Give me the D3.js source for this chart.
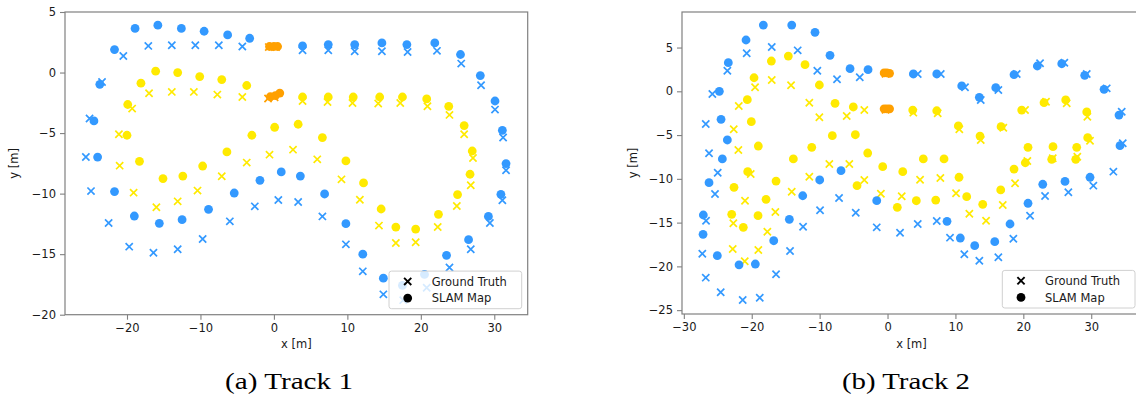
<!DOCTYPE html>
<html>
<head>
<meta charset="utf-8">
<script src="https://cdn.jsdelivr.net/npm/d3@7/dist/d3.min.js"></script>
<style>
  html, body { margin: 0; padding: 0; background: #fff; }
  svg { display: block; }
</style>
</head>
<body>
<svg id="chart" width="1136" height="400"></svg>
<script>
// ---------------- DATA ----------------
const legendLabels = ["Ground Truth", "SLAM Map"];
const captions = ["(a) Track 1", "(b) Track 2"];
const axisLabelX = "x [m]";
const axisLabelY = "y [m]";

const t1XTicks = [-20, -10, 0, 10, 20, 30];
const t1YTicks = [-20, -15, -10, -5, 0, 5];
const t2XTicks = [-30, -20, -10, 0, 10, 20, 30];
const t2YTicks = [-25, -20, -15, -10, -5, 0, 5];

// Track 1
const t1BlueGT = [[-20.5,1.37],[-17.1,2.2],[-13.9,2.26],[-10.7,2.26],[-7.5,2.26],[-4.3,2.15],
  [3.9,1.84],[7.4,1.84],[11.0,1.76],[14.7,1.76],[18.2,1.7],[22.2,1.79],[25.5,0.74],[28.2,-1.05],
  [30.1,-3.06],[31.2,-5.37],[31.6,-8.07],[31.1,-10.55],[29.4,-12.43],[26.8,-14.6],[23.9,-16.1],
  [20.8,-17.77],[17.6,-18.8],[14.9,-18.32],[12.1,-16.42],[9.8,-14.19],[6.6,-11.88],[3.3,-10.69],
  [0.6,-10.53],[-2.6,-11.05],[-6.0,-12.29],[-9.7,-13.75],[-13.1,-14.6],[-16.4,-14.88],[-19.7,-14.38],
  [-22.5,-12.43],[-24.9,-9.79],[-25.6,-6.98],[-25.1,-3.8],[-23.4,-0.78]];
const t1BlueSLAM = [[-21.7,1.9],[-18.9,3.64],[-15.8,3.91],[-12.6,3.64],[-9.5,3.41],[-6.3,3.11],[-3.3,2.83],
  [3.9,2.2],[7.4,2.31],[11.0,2.31],[14.7,2.45],[18.1,2.31],[21.9,2.45],[25.4,1.49],[28.1,-0.25],
  [30.1,-2.35],[31.1,-4.77],[31.6,-7.52],[30.9,-10.06],[29.2,-11.88],[26.5,-13.8],[23.5,-15.1],
  [20.5,-16.67],[17.5,-17.58],[14.9,-16.98],[12.1,-15.0],[9.8,-12.48],[6.9,-10.03],[3.6,-8.55],
  [1.0,-8.21],[-1.9,-8.9],[-5.4,-9.95],[-8.9,-11.3],[-12.5,-12.15],[-15.6,-12.45],[-19.0,-11.85],
  [-21.7,-9.83],[-24.0,-6.98],[-24.5,-4.0],[-23.7,-0.97]];
const t1YellowGT = [[-17.0,-1.71],[-13.9,-1.6],[-10.9,-1.6],[-7.7,-1.82],[-4.3,-2.02],
  [3.9,-2.35],[7.3,-2.43],[10.7,-2.51],[14.2,-2.56],[17.2,-2.51],[20.9,-2.79],[23.9,-3.5],
  [25.9,-5.1],[27.1,-7.06],[26.8,-9.31],[24.9,-11.02],[22.3,-12.76],[19.3,-14.02],[16.6,-14.08],
  [14.3,-12.64],[11.7,-10.5],[9.2,-8.82],[5.9,-7.17],[2.6,-6.37],[-0.6,-6.78],[-3.7,-7.44],
  [-7.1,-8.57],[-10.4,-9.75],[-13.1,-10.64],[-16.0,-11.13],[-19.1,-9.92],[-21.0,-7.69],
  [-21.1,-5.1],[-19.3,-2.98]];
const t1YellowSLAM = [[-18.1,-0.88],[-16.1,0.11],[-13.1,0.0],[-10.1,-0.33],[-7.1,-0.58],[-3.7,-1.07],
  [3.9,-2.02],[7.4,-2.02],[10.8,-2.02],[14.4,-2.02],[17.5,-2.02],[20.8,-2.18],[23.8,-2.79],
  [25.9,-4.38],[27.0,-6.48],[26.7,-8.4],[25.0,-10.08],[22.4,-11.71],[19.3,-12.93],[16.6,-12.76],
  [14.6,-11.27],[12.2,-9.12],[9.8,-7.3],[6.6,-5.37],[3.3,-4.27],[0.1,-4.52],[-3.0,-5.18],
  [-6.4,-6.56],[-9.7,-7.72],[-12.4,-8.55],[-15.1,-8.76],[-18.3,-7.33],[-20.0,-5.18],[-19.9,-2.64]];
const t1OrangeGT = [[-0.7,2.1],[0.3,2.1],[-0.8,-2.15],[0.1,-2.05]];
const t1OrangeSLAM = [[-0.6,2.15],[0.0,2.15],[0.5,2.15],[-0.5,-2.0],[0.2,-1.9],[0.8,-1.7]];

// Track 2
const t2BlueGT = [[-17.05,5.06],[-13.23,4.68],[-20.74,4.34],[-23.59,2.35],[-10.34,2.35],[-7.44,1.37],
  [-4.09,1.6],[-25.8,-0.31],[-26.77,-3.74],[-26.29,-7.08],[-25.01,-9.3],[-25.41,-11.73],[-26.73,-14.78],
  [-27.28,-18.55],[-26.77,-21.29],[-24.57,-22.96],[-21.33,-23.84],[-18.82,-23.58],[-16.42,-20.9],
  [-14.36,-18.24],[-12.44,-15.47],[-9.94,-13.59],[-7.14,-12.19],[-4.68,-13.87],[-1.59,-15.54],
  [1.84,-16.15],[4.45,-15.16],[7.25,-14.82],[9.2,-16.72],[11.31,-18.62],[13.52,-19.35],[16.32,-18.96],
  [18.53,-16.84],[20.99,-14.21],[23.2,-11.96],[26.63,-11.54],[30.31,-10.78],[33.26,-9.18],
  [34.64,-5.94],[34.49,-2.33],[32.28,0.34],[29.34,1.98],[26.04,3.27],[22.46,3.2],[19.03,1.98],
  [16.32,0.15],[13.73,-0.99],[11.41,0.46],[7.84,1.98],[4.45,1.98]];
const t2BlueSLAM = [[-18.29,7.57],[-14.11,7.57],[-10.68,6.74],[-20.84,5.86],[-8.47,4.11],[-5.52,2.58],
  [-2.87,2.47],[-23.45,3.27],[-24.77,0.0],[-24.52,-3.2],[-23.59,-5.56],[-24.33,-7.73],[-26.29,-10.44],
  [-27.13,-14.13],[-27.17,-16.34],[-25.07,-18.78],[-21.87,-19.82],[-19.47,-19.73],[-16.76,-17.07],
  [-14.46,-14.62],[-12.49,-11.93],[-9.99,-10.13],[-6.85,-9.07],[-1.59,-12.49],[3.8,1.98],[7.25,1.98],
  [10.93,0.61],[13.52,-0.69],[15.94,0.41],[18.63,1.9],[22.06,2.89],[25.66,3.15],[29.04,1.83],
  [31.89,0.23],[34.09,-2.71],[34.24,-6.21],[29.82,-9.82],[26.14,-10.3],[22.86,-10.62],[20.69,-12.79],
  [18.04,-15.16],[15.79,-17.18],[12.84,-17.64],[10.72,-16.76],[8.76,-14.85]];
const t2YellowGT = [[-17.05,1.29],[-14.21,0.69],[-19.51,0.46],[-21.91,-1.68],[-11.52,-1.3],[-10.04,-2.97],
  [-6.01,-2.82],[-3.42,-2.14],[-22.65,-4.34],[-21.97,-6.71],[-8.57,-8.3],[-5.63,-8.3],[-20.15,-9.45],
  [-11.52,-9.76],[-3.42,-10.13],[-0.98,-11.7],[-20.99,-12.5],[-16.52,-13.79],[-14.11,-11.47],
  [-22.71,-15.08],[-17.7,-16.04],[-22.8,-18.01],[-19.03,-18.13],[-21.03,-19.42],[3.8,-2.44],
  [7.39,-2.51],[10.57,-4.34],[13.73,-5.56],[17.05,-4.16],[20.25,-2.14],[23.34,-1.19],[26.39,-1.37],
  [29.43,-2.9],[29.82,-5.64],[20.59,-7.96],[24.33,-7.65],[27.95,-7.47],[4.79,-10.11],[7.78,-9.9],
  [2.09,-11.99],[10.09,-11.65],[12.05,-13.98],[14.51,-14.78],[16.97,-12.99],[18.78,-10.51]];
const t2YellowSLAM = [[-17.11,3.46],[-14.61,4.03],[-12.15,3.04],[-19.66,1.55],[-10.04,0.72],[-20.65,-0.96],
  [-7.73,-1.37],[-5.04,-1.79],[-20.06,-3.47],[-8.13,-5.07],[-4.74,-4.96],[-19.03,-6.25],[-11.16,-6.4],
  [-2.92,-7.05],[-13.87,-7.73],[-0.71,-8.61],[-20.59,-9.18],[-22.61,-10.97],[-16.42,-10.25],
  [-17.89,-12.34],[-22.95,-14.05],[-19.07,-14.21],[-21.24,-15.54],[-4.49,-10.78],[3.71,-2.14],
  [7.25,-2.22],[10.43,-3.96],[13.62,-5.11],[16.72,-4.04],[19.76,-2.14],[23.05,-1.3],[26.24,-0.99],
  [29.34,-2.36],[29.48,-5.3],[20.69,-6.4],[24.37,-6.33],[27.86,-6.4],[20.29,-8.16],[24.18,-7.77],
  [27.72,-7.77],[2.24,-9.18],[5.27,-7.73],[8.32,-7.73],[10.53,-9.82],[18.63,-8.88],[1.44,-13.25],
  [4.24,-12.5],[7.1,-12.42],[11.66,-12.04],[14.02,-12.91],[16.67,-11.27]];
const t2OrangeGT = [[-0.3,2.0],[-0.3,-2.1]];
const t2OrangeSLAM = [[-0.5,2.1],[-0.1,2.1],[0.3,2.05],[-0.5,-2.0],[-0.1,-2.0],[0.3,-2.0]];

// ---------------- STYLE ----------------
const BLUE = "#3399ff", YELLOW = "#ffea00", ORANGE = "#ffa000";
const FONT = "'DejaVu Sans', sans-serif";
const TXT = "#1a1a1a";
const SPINE = "#808080";
const R = 4.4, XS = 3.6;

const svg = d3.select("#chart");

const panels = [
  { left: 65, right: 527.7, top: 12, bottom: 314.7,
    xDomain: [-28.44, 34.55], yDomain: [-20, 5], xTicks: t1XTicks, yTicks: t1YTicks,
    gt: [[t1BlueGT, BLUE], [t1YellowGT, YELLOW], [t1OrangeGT, ORANGE]],
    slam: [[t1BlueSLAM, BLUE], [t1YellowSLAM, YELLOW], [t1OrangeSLAM, ORANGE]],
    caption: captions[0], capX: 289, yLabX: 14 },
  { left: 682, right: 1141, top: 12, bottom: 314,
    xDomain: [-30.27, 37.33], yDomain: [-25.44, 9.06], xTicks: t2XTicks, yTicks: t2YTicks,
    gt: [[t2BlueGT, BLUE], [t2YellowGT, YELLOW], [t2OrangeGT, ORANGE]],
    slam: [[t2BlueSLAM, BLUE], [t2YellowSLAM, YELLOW], [t2OrangeSLAM, ORANGE]],
    caption: captions[1], capX: 906, yLabX: 633 }
];

const xPath = s => `M${-s},${-s}L${s},${s}M${-s},${s}L${s},${-s}`;

panels.forEach((p, i) => {
  const x = d3.scaleLinear().domain(p.xDomain).range([p.left, p.right]);
  const y = d3.scaleLinear().domain(p.yDomain).range([p.bottom, p.top]);
  const g = svg.append("g");

  const clipId = "clip" + i;
  svg.append("clipPath").attr("id", clipId).append("rect")
    .attr("x", p.left).attr("y", p.top).attr("width", p.right - p.left).attr("height", p.bottom - p.top);

  // axes
  const xa = g.append("g").attr("transform", `translate(0,${p.bottom})`)
    .call(d3.axisBottom(x).tickValues(p.xTicks).tickSize(5).tickPadding(4).tickSizeOuter(0));
  const ya = g.append("g").attr("transform", `translate(${p.left},0)`)
    .call(d3.axisLeft(y).tickValues(p.yTicks).tickSize(5).tickPadding(4).tickSizeOuter(0));
  [xa, ya].forEach(a => {
    a.select(".domain").remove();
    a.selectAll(".tick line").attr("stroke", SPINE).attr("stroke-width", 1.1);
    a.selectAll(".tick text").attr("fill", TXT).attr("font-family", FONT).attr("font-size", 11.5);
  });

  // marks
  const mg = g.append("g").attr("clip-path", `url(#${clipId})`);
  p.gt.forEach(([data, col]) => {
    mg.append("g").selectAll("path").data(data).join("path")
      .attr("d", xPath(XS))
      .attr("transform", d => `translate(${x(d[0])},${y(d[1])})`)
      .attr("stroke", col).attr("stroke-width", 1.7).attr("fill", "none");
  });
  p.slam.forEach(([data, col]) => {
    mg.append("g").selectAll("circle").data(data).join("circle")
      .attr("cx", d => x(d[0])).attr("cy", d => y(d[1])).attr("r", R)
      .attr("fill", col);
  });

  // spines
  g.append("rect").attr("x", p.left).attr("y", p.top)
    .attr("width", p.right - p.left).attr("height", p.bottom - p.top)
    .attr("fill", "none").attr("stroke", SPINE).attr("stroke-width", 1.2);

  // axis labels
  g.append("text").attr("x", (p.left + p.right) / 2).attr("y", 348)
    .attr("text-anchor", "middle").attr("font-family", FONT).attr("font-size", 11.5)
    .attr("fill", TXT).text(axisLabelX);
  g.append("text").attr("transform", `translate(${p.yLabX + 4},${(p.top + p.bottom) / 2}) rotate(-90)`)
    .attr("text-anchor", "middle").attr("font-family", FONT).attr("font-size", 11.5)
    .attr("fill", TXT).text(axisLabelY);

  // legend
  const lw = 132.7, lh = 37.6;
  const lx = p.right - 6 - lw, ly = p.bottom - 6 - lh;
  const lg = g.append("g");
  lg.append("rect").attr("x", lx).attr("y", ly).attr("width", lw).attr("height", lh)
    .attr("rx", 2.5).attr("fill", "#fff").attr("fill-opacity", 0.8)
    .attr("stroke", "#d0d0d0").attr("stroke-width", 1);
  lg.append("path").attr("d", xPath(XS)).attr("transform", `translate(${lx + 18.7},${ly + 10.3})`)
    .attr("stroke", "#000").attr("stroke-width", 1.9).attr("fill", "none");
  lg.append("circle").attr("cx", lx + 18.7).attr("cy", ly + 27).attr("r", R).attr("fill", "#000");
  legendLabels.forEach((t, k) => {
    lg.append("text").attr("x", lx + 42.7).attr("y", ly + 14.5 + k * 16.7)
      .attr("font-family", FONT).attr("font-size", 11.5).attr("fill", TXT).text(t);
  });

  // caption
  g.append("text").attr("x", p.capX).attr("y", 389).attr("text-anchor", "middle")
    .attr("font-family", "'Liberation Serif', 'Times New Roman', serif").attr("font-size", 24)
    .attr("textLength", 128).attr("lengthAdjust", "spacingAndGlyphs")
    .attr("fill", "#000").text(p.caption);
});
</script>
</body>
</html>
